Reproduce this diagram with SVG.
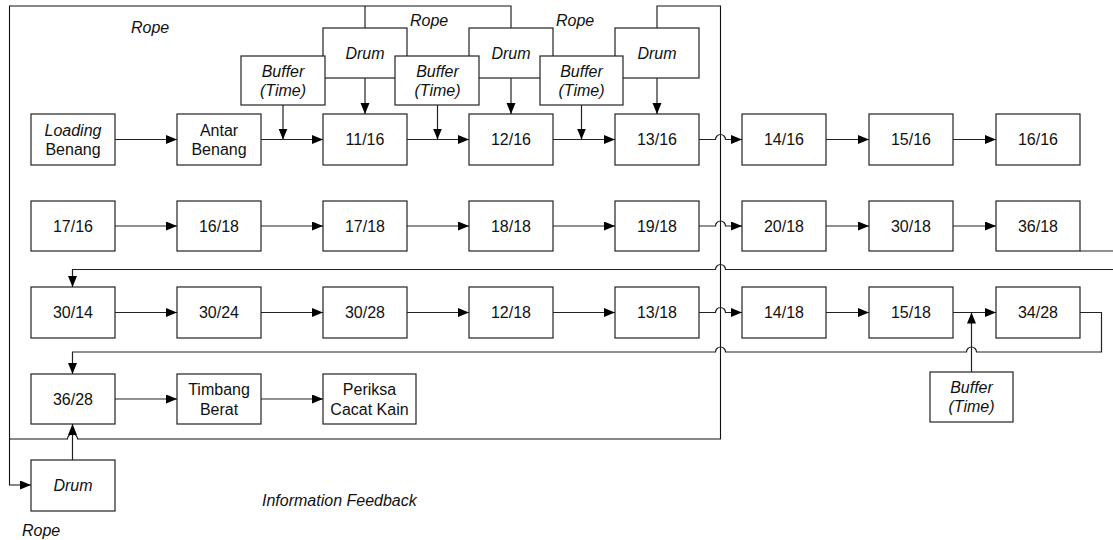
<svg xmlns="http://www.w3.org/2000/svg" width="1113" height="540" viewBox="0 0 1113 540">
  <defs>
    <marker id="arrow" markerUnits="userSpaceOnUse" markerWidth="12" markerHeight="10" refX="11" refY="4.5" orient="auto">
      <path d="M0,0 L11,4.5 L0,9 Z" fill="#000"/>
    </marker>
    <style>
      .box { fill: #fff; stroke: #222; stroke-width: 1.2; }
      .lbl { font-family: "Liberation Sans", Arial, sans-serif; font-size: 16px; fill: #111; text-anchor: middle; }
      .it { font-style: italic; }
      .free { font-family: "Liberation Sans", Arial, sans-serif; font-size: 16px; fill: #111; font-style: italic; }
      .wire { fill: none; stroke: #222; stroke-width: 1.2; }
      .rope { fill: none; stroke: #111; stroke-width: 1.1; }
    </style>
  </defs>
  <rect width="1113" height="540" fill="#fff"/>

  <!-- rope / information feedback lines -->
  <g id="rope-lines">
    <path class="rope" d="M365 28 V6"/>
    <path class="rope" d="M511 28 V6 H9.5 V485 H31" marker-end="url(#arrow)"/>
    <path class="rope" d="M657 28 V6 H720.5 V439 H77.5 A5 5 0 0 0 67.5 439 H9.5"/>
  </g>

  <!-- top drums (drawn first, buffers overlap them) -->
  <g id="drum-1"><rect class="box" x="323" y="28" width="84" height="50"/><text class="lbl it" x="365" y="58.5">Drum</text></g>
  <g id="drum-2"><rect class="box" x="469" y="28" width="84" height="50"/><text class="lbl it" x="511" y="58.5">Drum</text></g>
  <g id="drum-3"><rect class="box" x="615" y="28" width="84" height="50"/><text class="lbl it" x="657" y="58.5">Drum</text></g>

  <g id="buffer-1"><rect class="box" x="241" y="56" width="84" height="49"/><text class="lbl it" x="283" y="76.5">Buffer</text><text class="lbl it" x="283" y="95.5">(Time)</text></g>
  <g id="buffer-2"><rect class="box" x="395" y="56" width="84" height="49"/><text class="lbl it" x="437.5" y="76.5">Buffer</text><text class="lbl it" x="437.5" y="95.5">(Time)</text></g>
  <g id="buffer-3"><rect class="box" x="540" y="56" width="83" height="49"/><text class="lbl it" x="581.5" y="76.5">Buffer</text><text class="lbl it" x="581.5" y="95.5">(Time)</text></g>

  <!-- row 1 -->
  <g id="loading-benang"><rect class="box" x="31" y="114" width="84" height="51"/><text class="lbl it" x="73" y="135.5">Loading</text><text class="lbl" x="73" y="155">Benang</text></g>
  <g id="antar-benang"><rect class="box" x="177" y="114" width="84" height="51"/><text class="lbl" x="219" y="135.5">Antar</text><text class="lbl" x="219" y="155">Benang</text></g>
  <g id="p11-16"><rect class="box" x="323" y="114" width="84" height="51"/><text class="lbl" x="365" y="145">11/16</text></g>
  <g id="p12-16"><rect class="box" x="469" y="114" width="84" height="51"/><text class="lbl" x="511" y="145">12/16</text></g>
  <g id="p13-16"><rect class="box" x="615" y="114" width="84" height="51"/><text class="lbl" x="657" y="145">13/16</text></g>
  <g id="p14-16"><rect class="box" x="742" y="114" width="84" height="51"/><text class="lbl" x="784" y="145">14/16</text></g>
  <g id="p15-16"><rect class="box" x="869" y="114" width="84" height="51"/><text class="lbl" x="911" y="145">15/16</text></g>
  <g id="p16-16"><rect class="box" x="996" y="114" width="84" height="51"/><text class="lbl" x="1038" y="145">16/16</text></g>

  <!-- row 2 -->
  <g id="p17-16"><rect class="box" x="31" y="201" width="84" height="50"/><text class="lbl" x="73" y="231.5">17/16</text></g>
  <g id="p16-18"><rect class="box" x="177" y="201" width="84" height="50"/><text class="lbl" x="219" y="231.5">16/18</text></g>
  <g id="p17-18"><rect class="box" x="323" y="201" width="84" height="50"/><text class="lbl" x="365" y="231.5">17/18</text></g>
  <g id="p18-18"><rect class="box" x="469" y="201" width="84" height="50"/><text class="lbl" x="511" y="231.5">18/18</text></g>
  <g id="p19-18"><rect class="box" x="615" y="201" width="84" height="50"/><text class="lbl" x="657" y="231.5">19/18</text></g>
  <g id="p20-18"><rect class="box" x="742" y="201" width="84" height="50"/><text class="lbl" x="784" y="231.5">20/18</text></g>
  <g id="p30-18"><rect class="box" x="869" y="201" width="84" height="50"/><text class="lbl" x="911" y="231.5">30/18</text></g>
  <g id="p36-18"><rect class="box" x="996" y="201" width="84" height="50"/><text class="lbl" x="1038" y="231.5">36/18</text></g>

  <!-- row 3 -->
  <g id="p30-14"><rect class="box" x="31" y="287" width="84" height="51"/><text class="lbl" x="73" y="318">30/14</text></g>
  <g id="p30-24"><rect class="box" x="177" y="287" width="84" height="51"/><text class="lbl" x="219" y="318">30/24</text></g>
  <g id="p30-28"><rect class="box" x="323" y="287" width="84" height="51"/><text class="lbl" x="365" y="318">30/28</text></g>
  <g id="p12-18"><rect class="box" x="469" y="287" width="84" height="51"/><text class="lbl" x="511" y="318">12/18</text></g>
  <g id="p13-18"><rect class="box" x="615" y="287" width="84" height="51"/><text class="lbl" x="657" y="318">13/18</text></g>
  <g id="p14-18"><rect class="box" x="742" y="287" width="84" height="51"/><text class="lbl" x="784" y="318">14/18</text></g>
  <g id="p15-18"><rect class="box" x="869" y="287" width="84" height="51"/><text class="lbl" x="911" y="318">15/18</text></g>
  <g id="p34-28"><rect class="box" x="996" y="287" width="84" height="51"/><text class="lbl" x="1038" y="318">34/28</text></g>

  <!-- row 4 -->
  <g id="p36-28"><rect class="box" x="31" y="374" width="84" height="50"/><text class="lbl" x="73" y="404.5">36/28</text></g>
  <g id="timbang-berat"><rect class="box" x="177" y="374" width="84" height="50"/><text class="lbl" x="219" y="395">Timbang</text><text class="lbl" x="219" y="414.5">Berat</text></g>
  <g id="periksa-cacat"><rect class="box" x="323" y="374" width="93" height="50"/><text class="lbl" x="369.5" y="395">Periksa</text><text class="lbl" x="369.5" y="414.5">Cacat Kain</text></g>

  <g id="buffer-4"><rect class="box" x="930" y="372" width="83" height="50"/><text class="lbl it" x="971.5" y="393">Buffer</text><text class="lbl it" x="971.5" y="412">(Time)</text></g>
  <g id="drum-4"><rect class="box" x="31" y="460" width="84" height="51"/><text class="lbl it" x="73" y="491">Drum</text></g>

  <!-- flow connectors -->
  <g id="connectors">
    <path class="wire" d="M115 139.5 H177" marker-end="url(#arrow)"/>
    <path class="wire" d="M261 139.5 H323" marker-end="url(#arrow)"/>
    <path class="wire" d="M407 139.5 H469" marker-end="url(#arrow)"/>
    <path class="wire" d="M553 139.5 H615" marker-end="url(#arrow)"/>
    <path class="wire" d="M699 139.5 H715.5 A5 5 0 0 1 725.5 139.5 H742" marker-end="url(#arrow)"/>
    <path class="wire" d="M826 139.5 H869" marker-end="url(#arrow)"/>
    <path class="wire" d="M953 139.5 H996" marker-end="url(#arrow)"/>
    <path class="wire" d="M283 105 V139.5" marker-end="url(#arrow)"/>
    <path class="wire" d="M437.5 105 V139.5" marker-end="url(#arrow)"/>
    <path class="wire" d="M581.5 105 V139.5" marker-end="url(#arrow)"/>
    <path class="wire" d="M365 78 V114" marker-end="url(#arrow)"/>
    <path class="wire" d="M511 78 V114" marker-end="url(#arrow)"/>
    <path class="wire" d="M657 78 V114" marker-end="url(#arrow)"/>

    <path class="wire" d="M115 226 H177" marker-end="url(#arrow)"/>
    <path class="wire" d="M261 226 H323" marker-end="url(#arrow)"/>
    <path class="wire" d="M407 226 H469" marker-end="url(#arrow)"/>
    <path class="wire" d="M553 226 H615" marker-end="url(#arrow)"/>
    <path class="wire" d="M699 226 H715.5 A5 5 0 0 1 725.5 226 H742" marker-end="url(#arrow)"/>
    <path class="wire" d="M826 226 H869" marker-end="url(#arrow)"/>
    <path class="wire" d="M953 226 H996" marker-end="url(#arrow)"/>
    <path class="wire" d="M1080 251 H1120"/>
    <path class="wire" d="M1120 269.5 H725.5 A5 5 0 0 0 715.5 269.5 H72.5 V287" marker-end="url(#arrow)"/>

    <path class="wire" d="M115 312.5 H177" marker-end="url(#arrow)"/>
    <path class="wire" d="M261 312.5 H323" marker-end="url(#arrow)"/>
    <path class="wire" d="M407 312.5 H469" marker-end="url(#arrow)"/>
    <path class="wire" d="M553 312.5 H615" marker-end="url(#arrow)"/>
    <path class="wire" d="M699 312.5 H715.5 A5 5 0 0 1 725.5 312.5 H742" marker-end="url(#arrow)"/>
    <path class="wire" d="M826 312.5 H869" marker-end="url(#arrow)"/>
    <path class="wire" d="M953 312.5 H996" marker-end="url(#arrow)"/>
    <path class="wire" d="M971.5 372 V312.5" marker-end="url(#arrow)"/>
    <path class="wire" d="M1080 312.5 H1101.5 V352 H976.5 A5 5 0 0 0 966.5 352 H725.5 A5 5 0 0 0 715.5 352 H72.5 V374" marker-end="url(#arrow)"/>

    <path class="wire" d="M115 399 H177" marker-end="url(#arrow)"/>
    <path class="wire" d="M261 399 H323" marker-end="url(#arrow)"/>
    <path class="wire" d="M72.5 460 V424" marker-end="url(#arrow)"/>
  </g>

  <!-- free labels -->
  <g id="labels">
    <text class="free" x="131" y="33">Rope</text>
    <text class="free" x="410" y="26">Rope</text>
    <text class="free" x="556" y="26">Rope</text>
    <text class="free" x="22" y="536">Rope</text>
    <text class="free" x="262" y="506">Information Feedback</text>
  </g>
</svg>
